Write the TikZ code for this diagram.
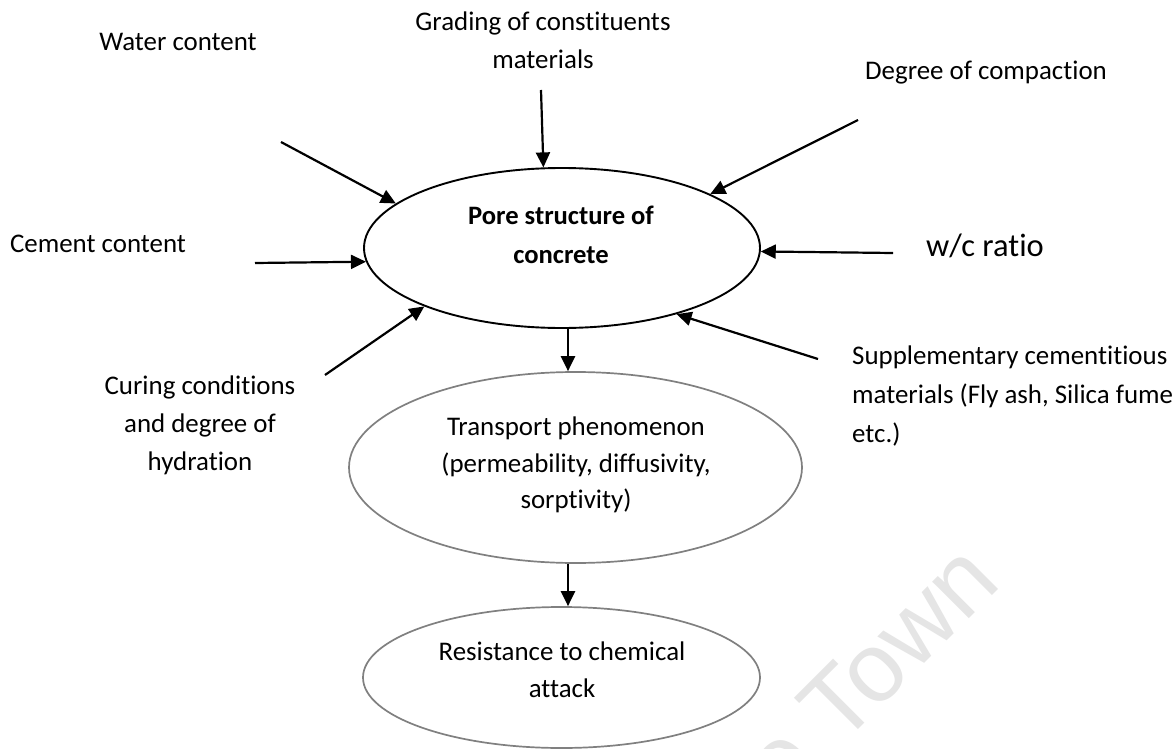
\documentclass[tikz,border=0pt]{standalone}
\usepackage{fontspec}
\setmainfont{Carlito}[Ligatures={NoCommon},RawFeature={-liga;-dlig;-clig}]
\newfontfamily\wmfont{Liberation Sans}
\usetikzlibrary{arrows.meta,shapes.geometric}
\begin{document}
\begin{tikzpicture}[x=1pt,y=-1pt,
  lbl/.style={anchor=base,inner sep=0pt,font=\fontsize{26.9}{32}\selectfont},
  lblw/.style={anchor=base west,inner sep=0pt,font=\fontsize{26.9}{32}\selectfont},
  bigl/.style={anchor=base,inner sep=0pt,font=\fontsize{32.5}{38}\selectfont},
  boldl/.style={anchor=base,inner sep=0pt,font=\fontsize{26.6}{32}\selectfont\bfseries},
  arr/.style={line width=2.2pt,-{Triangle[length=15pt,width=14pt]}},
  mainell/.style={ellipse,draw=black,line width=1.9pt,inner sep=0pt},
  grayell/.style={ellipse,draw=black!50,line width=1.7pt,inner sep=0pt},
  wm/.style={inner sep=0pt,text=black!10,font=\wmfont\fontsize{98}{98}\selectfont}]
\useasboundingbox (0,0) rectangle (1173,749);
\clip (0,0) rectangle (1173,749);
\fill[white] (0,0) rectangle (1173,749);
% watermark
\node[wm,rotate=45,anchor=base east] (wmark) at (1003,585) {Cape Town};
% ellipses
\node[mainell,minimum width=396pt,minimum height=160pt] (pore) at (562,248) {};
\node[grayell,minimum width=453pt,minimum height=191pt] (trans) at (575.5,467.5) {};
\node[grayell,minimum width=397pt,minimum height=141pt] (resist) at (561.5,677.5) {};
% texts
\node[boldl] (p1) at (561,224) {Pore structure of};
\node[boldl] (p2) at (561,263) {concrete};
\node[lbl] (t1) at (576,435) {Transport phenomenon};
\node[lbl] (t2) at (576,472) {(permeability, diffusivity,};
\node[lbl] (t3) at (576,508) {sorptivity)};
\node[lbl] (r1) at (562,660) {Resistance to chemical};
\node[lbl] (r2) at (562,697) {attack};
\node[lbl] (g1) at (543,31) {Grading of constituents};
\node[lbl] (g2) at (543,69) {materials};
\node[lbl] (wc) at (178,51) {Water content};
\node[lbl] (dc) at (986,80) {Degree of compaction};
\node[lbl] (cc) at (98,252) {Cement content};
\node[bigl] (wcr) at (985,256) {w/c ratio};
\node[lbl] (cu1) at (200,394) {Curing conditions};
\node[lbl] (cu2) at (200,432) {and degree of};
\node[lbl] (cu3) at (200,470) {hydration};
\node[lblw] (s1) at (852,364) {Supplementary cementitious};
\node[lblw] (s2) at (852,403) {materials (Fly ash, Silica fume};
\node[lblw] (s3) at (852,442) {etc.)};
% arrow start points
\coordinate (aw) at (281,142);
\coordinate (ag) at (541,90);
\coordinate (ad) at (858,120);
\coordinate (ac) at (255,263);
\coordinate (awc) at (893,253);
\coordinate (acu) at (325,375);
\coordinate (as) at (818,359);
\coordinate (ax) at (568,0);
% arrows
\draw[arr] (aw) -- (pore.165.6);
\draw[arr] (ag) -- (pore.103.4);
\draw[arr] (ad) -- (pore.20.3);
\draw[arr] (ac) -- (pore.184.3);
\draw[arr] (awc) -- (pore.-1.4);
\draw[arr] (acu) -- (pore.203.1);
\draw[arr] (as) -- (pore.-30.2);
\draw[arr] (ax |- pore.south) -- (ax |- trans.north);
\draw[arr] (ax |- trans.south) -- (ax |- resist.north);
\end{tikzpicture}
\end{document}
